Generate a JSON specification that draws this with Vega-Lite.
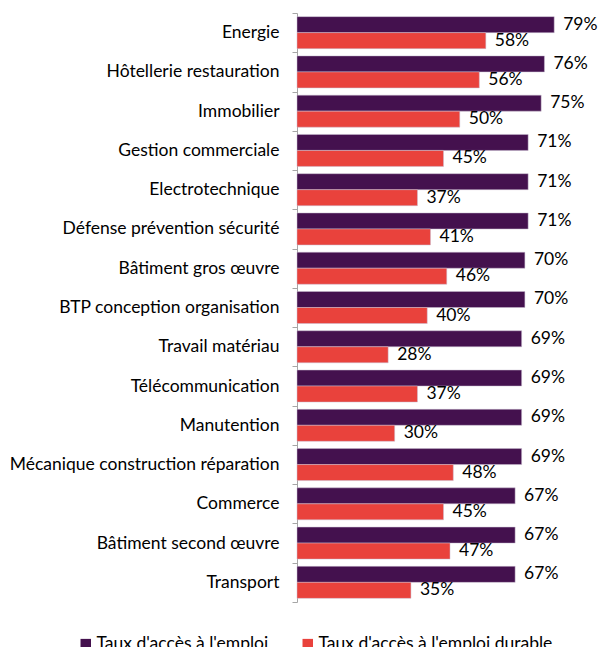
{
  "$schema": "https://vega.github.io/schema/vega-lite/v6.json",
  "autosize": {"type": "none"},
  "width": 293,
  "height": 589,
  "padding": {"left": 297, "top": 13, "right": 9, "bottom": 45},
  "config": {"view": {"stroke": null}, "font": "Lato"},
  "data": {
    "values": [
      {"cat": "Energie", "serie": "Taux d'accès à l'emploi", "v": 0.79},
      {"cat": "Energie", "serie": "Taux d'accès à l'emploi durable", "v": 0.58},
      {"cat": "Hôtellerie restauration", "serie": "Taux d'accès à l'emploi", "v": 0.76},
      {"cat": "Hôtellerie restauration", "serie": "Taux d'accès à l'emploi durable", "v": 0.56},
      {"cat": "Immobilier", "serie": "Taux d'accès à l'emploi", "v": 0.75},
      {"cat": "Immobilier", "serie": "Taux d'accès à l'emploi durable", "v": 0.50},
      {"cat": "Gestion commerciale", "serie": "Taux d'accès à l'emploi", "v": 0.71},
      {"cat": "Gestion commerciale", "serie": "Taux d'accès à l'emploi durable", "v": 0.45},
      {"cat": "Electrotechnique", "serie": "Taux d'accès à l'emploi", "v": 0.71},
      {"cat": "Electrotechnique", "serie": "Taux d'accès à l'emploi durable", "v": 0.37},
      {"cat": "Défense prévention sécurité", "serie": "Taux d'accès à l'emploi", "v": 0.71},
      {"cat": "Défense prévention sécurité", "serie": "Taux d'accès à l'emploi durable", "v": 0.41},
      {"cat": "Bâtiment gros œuvre", "serie": "Taux d'accès à l'emploi", "v": 0.70},
      {"cat": "Bâtiment gros œuvre", "serie": "Taux d'accès à l'emploi durable", "v": 0.46},
      {"cat": "BTP conception organisation", "serie": "Taux d'accès à l'emploi", "v": 0.70},
      {"cat": "BTP conception organisation", "serie": "Taux d'accès à l'emploi durable", "v": 0.40},
      {"cat": "Travail matériau", "serie": "Taux d'accès à l'emploi", "v": 0.69},
      {"cat": "Travail matériau", "serie": "Taux d'accès à l'emploi durable", "v": 0.28},
      {"cat": "Télécommunication", "serie": "Taux d'accès à l'emploi", "v": 0.69},
      {"cat": "Télécommunication", "serie": "Taux d'accès à l'emploi durable", "v": 0.37},
      {"cat": "Manutention", "serie": "Taux d'accès à l'emploi", "v": 0.69},
      {"cat": "Manutention", "serie": "Taux d'accès à l'emploi durable", "v": 0.30},
      {"cat": "Mécanique construction réparation", "serie": "Taux d'accès à l'emploi", "v": 0.69},
      {"cat": "Mécanique construction réparation", "serie": "Taux d'accès à l'emploi durable", "v": 0.48},
      {"cat": "Commerce", "serie": "Taux d'accès à l'emploi", "v": 0.67},
      {"cat": "Commerce", "serie": "Taux d'accès à l'emploi durable", "v": 0.45},
      {"cat": "Bâtiment second œuvre", "serie": "Taux d'accès à l'emploi", "v": 0.67},
      {"cat": "Bâtiment second œuvre", "serie": "Taux d'accès à l'emploi durable", "v": 0.47},
      {"cat": "Transport", "serie": "Taux d'accès à l'emploi", "v": 0.67},
      {"cat": "Transport", "serie": "Taux d'accès à l'emploi durable", "v": 0.35}
    ]
  },
  "encoding": {
    "y": {
      "field": "cat", "type": "nominal", "sort": null,
      "scale": {"paddingInner": 0, "paddingOuter": 0},
      "axis": {
        "title": null, "tickBand": "extent", "domainColor": "#a6a6a6", "tickColor": "#a6a6a6",
        "tickSize": 5, "labelPadding": 13, "labelFontSize": 17.5, "labelColor": "#000000",
        "labelFont": "Lato", "labelLimit": 400
      }
    },
    "yOffset": {
      "field": "serie", "type": "nominal", "sort": null,
      "scale": {"paddingOuter": 0.227, "paddingInner": 0}
    },
    "x": {
      "field": "v", "type": "quantitative",
      "scale": {"domain": [0, 0.9], "nice": false},
      "axis": null
    }
  },
  "layer": [
    {
      "mark": {"type": "bar", "stroke": "#c8bcd0", "strokeWidth": 0.5},
      "encoding": {
        "color": {
          "field": "serie", "type": "nominal", "sort": null,
          "scale": {"domain": ["Taux d'accès à l'emploi", "Taux d'accès à l'emploi durable"], "range": ["#44114e", "#e9423c"]},
          "legend": {
            "title": null, "orient": "none", "legendX": -220, "legendY": 622, "padding": 0,
            "direction": "horizontal", "symbolType": "square", "symbolSize": 110,
            "symbolStrokeWidth": 0, "labelFontSize": 17.5, "labelFont": "Lato", "labelColor": "#000000",
            "columnPadding": 30, "labelOffset": 2, "labelLimit": 400
          }
        }
      }
    },
    {
      "mark": {"type": "text", "align": "left", "baseline": "middle", "dx": 9, "fontSize": 17.5, "font": "Lato", "color": "#000000"},
      "encoding": {
        "text": {"field": "v", "type": "quantitative", "format": ".0%"}
      }
    }
  ]
}
